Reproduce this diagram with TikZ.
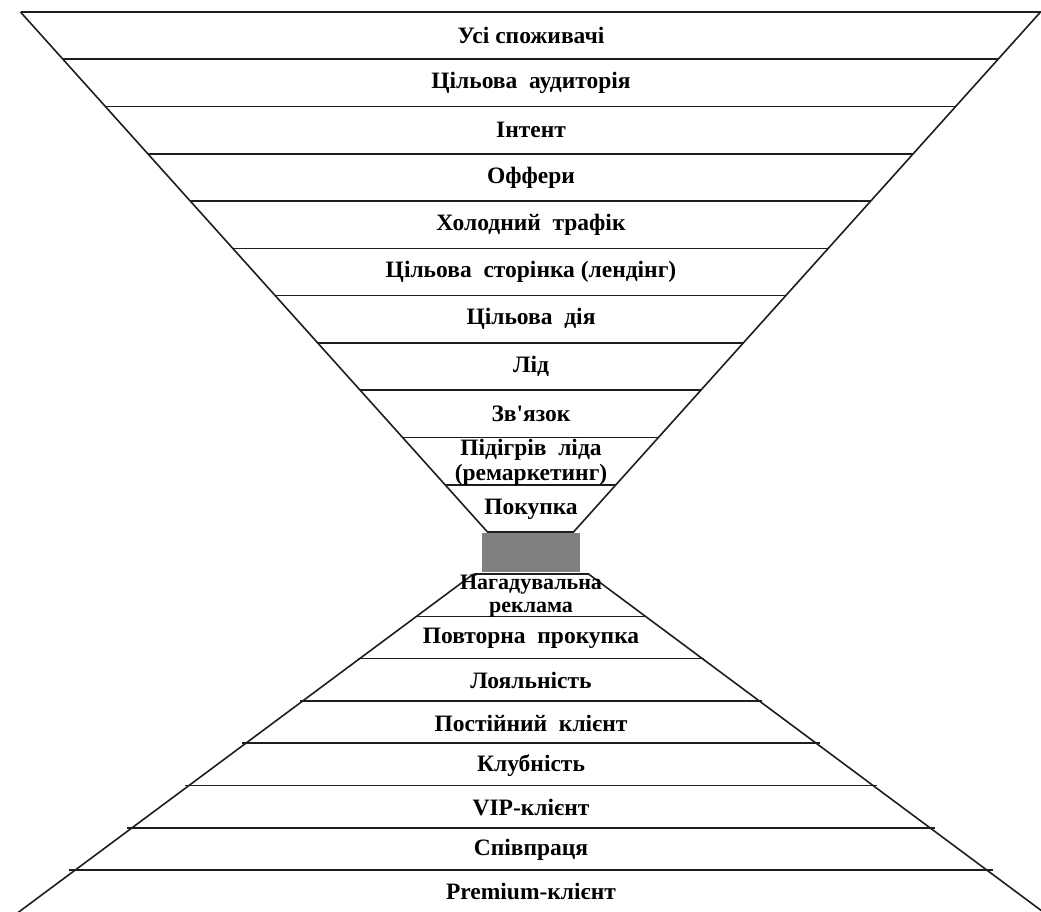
\documentclass[tikz,border=0pt]{standalone}
\usepackage{fontspec}
\setmainfont{Liberation Serif}
\newfontfamily\rawserif{Liberation Serif}
\begin{document}
\begin{tikzpicture}[x=1pt,y=-1pt,
  edge/.style={line width=1.6pt, draw={rgb,255:red,30;green,30;blue,30}},
  lbl/.style={font=\bfseries\fontsize{23.5}{26}\selectfont, align=center, inner sep=0pt},
  lblpid/.style={font=\bfseries\fontsize{23.5}{25}\selectfont, align=center, inner sep=0pt},
  lblnag/.style={font=\bfseries\fontsize{22}{22.5}\selectfont, align=center, inner sep=0pt}]
\useasboundingbox (0,0) rectangle (1041,911);
\clip (0,0) rectangle (1041,911);
\fill[white] (0,0) rectangle (1041,911);
% upper funnel
\foreach \i in {0,...,11}{
  \pgfmathsetmacro\yy{12+47.27*\i}
  \pgfmathsetmacro\hh{510-(\yy-12)*0.8971}
  \draw[edge] (530.5-\hh,\yy) -- (530.5+\hh,\yy);
}
\coordinate (tl) at (20.5,12);
\coordinate (tr) at (1040.5,12);
\coordinate (bl) at (487.5,532);
\coordinate (br) at (573.5,532);
\draw[edge] (tl) -- (bl);
\draw[edge] (tr) -- (br);
% gray box
\fill[fill={rgb,255:red,128;green,128;blue,128}] (482,533) rectangle (580,572);
% lower funnel
\foreach \i in {0,...,7}{
  \pgfmathsetmacro\yy{574+42.3*\i}
  \pgfmathsetmacro\hh{57.5+(\yy-574)*1.366}
  \draw[edge] (531-\hh,\yy) -- (531+\hh,\yy);
}
\coordinate (ltl) at (473.5,574);
\coordinate (ltr) at (588.5,574);
\coordinate (lbl) at (8,920);
\coordinate (lbr) at (1054,920);
\draw[edge] (ltl) -- (lbl);
\draw[edge] (ltr) -- (lbr);
% labels upper
\node[lbl] (l1) at (531,35.6) {Усі споживачі};
\node[lbl] (l2) at (531,82.9) {Цільова\ \ аудиторія};
\node[lbl] (l3) at (531,130.2) {Інтент};
\node[lbl] (l4) at (531,177.4) {Оффери};
\node[lbl] (l5) at (531,224.7) {Холодний\ \ трафік};
\node[lbl] (l6) at (531,272) {Цільова\ \ сторінка (лендінг)};
\node[lbl] (l7) at (531,319.3) {Цільова\ \ дія};
\node[lbl] (l8) at (531,366.6) {Лід};
\node[lbl] (l9) at (531,413.9) {Зв{\rawserif\bfseries '}язок};
\node[lblpid] (l10) at (531,462.5) {Підігрів\ \ ліда\\(ремаркетинг)};
\node[lbl] (l11) at (531,509) {Покупка};
% labels lower
\node[lblnag] (b1) at (531,596) {Нагадувальна\\реклама};
\node[lbl] (b2) at (531,638.5) {Повторна\ \ прокупка};
\node[lbl] (b3) at (531,680.8) {Лояльність};
\node[lbl] (b4) at (531,723.1) {Постійний\ \ клієнт};
\node[lbl] (b5) at (531,765.4) {Клубність};
\node[lbl] (b6) at (531,807.7) {VIP-клієнт};
\node[lbl] (b7) at (531,850) {Співпраця};
\node[lbl] (b8) at (531,891) {Premium-клієнт};
\end{tikzpicture}
\end{document}
